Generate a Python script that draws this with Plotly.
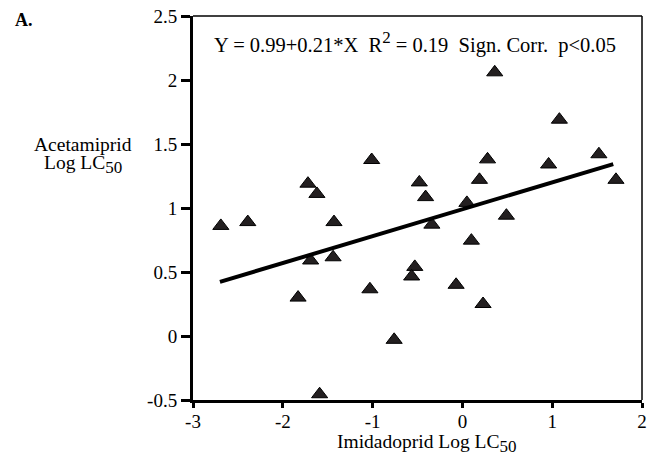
import plotly.graph_objects as go

# Data
imidacloprid_log_lc50 = [-2.69, -2.39, -1.72, -1.62, -1.43, -1.01, -1.69, -1.44, -1.83, -1.03,
                         -0.76, -1.59, -0.53, -0.565, -0.48, -0.41, -0.34, 0.28, 0.36, 0.19,
                         0.05, 0.49, 1.08, 0.96, 1.52, 1.71, 0.10, -0.07, 0.23]
acetamiprid_log_lc50 = [0.86, 0.89, 1.19, 1.11, 0.89, 1.375, 0.59, 0.615, 0.30, 0.365,
                        -0.03, -0.455, 0.54, 0.465, 1.20, 1.085, 0.87, 1.38, 2.06, 1.22,
                        1.04, 0.94, 1.69, 1.34, 1.42, 1.22, 0.745, 0.40, 0.25]
fit_intercept = 0.99
fit_slope = 0.21
fit_x = [-2.7, 1.68]
fit_y = [fit_intercept + fit_slope * x for x in fit_x]

x_tickvals = [-3, -2, -1, 0, 1, 2]
x_ticktext = ["-3", "-2", "-1", "0", "1", "2"]
y_tickvals = [2.5, 2, 1.5, 1, 0.5, 0, -0.5]
y_ticktext = ["2.5", "2", "1.5", "1", "0.5", "0", "-0.5"]

FONT = "Liberation Serif"
SUB50 = "<sub><span style='font-size:17px'>50</span></sub>"

fig = go.Figure()
fig.add_trace(go.Scatter(
    x=imidacloprid_log_lc50, y=acetamiprid_log_lc50, mode="markers",
    marker=dict(symbol="triangle-up", size=14, color="#231f20",
                line=dict(color="black", width=1)),
    cliponaxis=False, showlegend=False))
fig.add_trace(go.Scatter(
    x=fit_x, y=fit_y, mode="lines",
    line=dict(color="black", width=4), showlegend=False))

fig.update_layout(
    width=663, height=456,
    margin=dict(l=193, r=21, t=16, b=56),
    paper_bgcolor="white", plot_bgcolor="white",
    font=dict(family=FONT, size=19, color="black"),
    xaxis=dict(range=[-3, 2], tickvals=x_tickvals, ticktext=x_ticktext,
               showgrid=False, zeroline=False, showline=True, linewidth=3,
               linecolor="black", ticks="outside", ticklen=5, tickwidth=2.5,
               tickcolor="black", tickfont=dict(size=19, family=FONT),
               ticklabeloverflow="allow", automargin=False, ticklabelstandoff=-3),
    yaxis=dict(range=[-0.5, 2.5], tickvals=y_tickvals, ticktext=y_ticktext,
               showgrid=False, zeroline=False, showline=True, linewidth=3,
               linecolor="black", ticks="outside", ticklen=9, tickwidth=2.5,
               tickcolor="black", tickfont=dict(size=19, family=FONT),
               ticklabeloverflow="allow", automargin=False),
    shapes=[
        dict(type="line", xref="paper", yref="paper", x0=0, x1=1, y0=1, y1=1,
             line=dict(color="black", width=1.5)),
        dict(type="line", xref="paper", yref="paper", x0=1, x1=1, y0=0, y1=1,
             line=dict(color="black", width=1.5)),
    ],
    annotations=[
        dict(text="<b>A.</b>", xref="paper", yref="paper", x=-0.376, y=0.99,
             xanchor="center", yanchor="middle", showarrow=False,
             font=dict(size=18, family=FONT)),
        dict(text="Y = 0.99+0.21*X&#160;&#160;R<sup><span style='font-size:17px'>2</span></sup> = 0.19&#160;&#160;Sign. Corr.&#160;&#160;p&lt;0.05",
             xref="paper", yref="paper", x=0.494, y=0.931, xanchor="center",
             yanchor="middle", showarrow=False, font=dict(size=20.5, family=FONT)),
        dict(text="Acetamiprid", xref="paper", yref="paper",
             x=-0.246, y=0.666, xanchor="center", yanchor="middle", showarrow=False,
             font=dict(size=19.5, family=FONT)),
        dict(text="Log LC" + SUB50, xref="paper", yref="paper",
             x=-0.246, y=0.613, xanchor="center", yanchor="middle", showarrow=False,
             font=dict(size=19.5, family=FONT)),
        dict(text="Imidadoprid Log LC" + SUB50, xref="paper", yref="paper",
             x=0.521, y=-0.114, xanchor="center", yanchor="middle", showarrow=False,
             font=dict(size=19.5, family=FONT)),
    ],
)

fig.write_html("out.html", config={"displayModeBar": False},
               post_script="document.body.style.margin='0';")
